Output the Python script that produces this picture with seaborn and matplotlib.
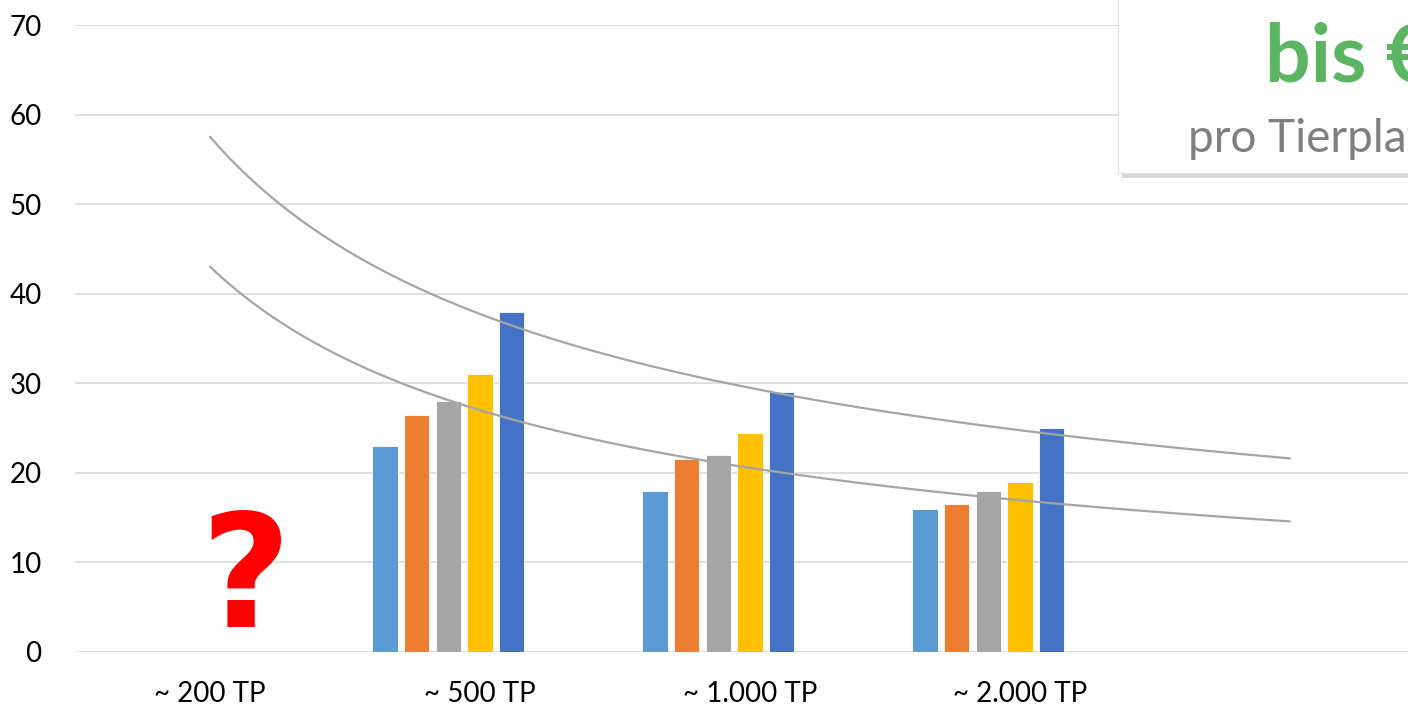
import numpy as np
import pandas as pd
import matplotlib
matplotlib.use("Agg")
import matplotlib.pyplot as plt
import seaborn as sns
from matplotlib.patches import Rectangle

# Data
categories = ["~ 200 TP", "~ 500 TP", "~ 1.000 TP", "~ 2.000 TP", ""]
series_names = ["Reihe 1", "Reihe 2", "Reihe 3", "Reihe 4", "Reihe 5", "Reihe 6", "Reihe 7"]
series_colors = ["#5B9BD5", "#ED7D31", "#A5A5A5", "#FFC000", "#4472C4", "#264478", "#9E480E"]
bar_categories = ["~ 500 TP", "~ 1.000 TP", "~ 2.000 TP"]
reihe1 = [23, 18, 16]
reihe2 = [26.5, 21.5, 16.5]
reihe3 = [28, 22, 18]
reihe4 = [31, 24.5, 19]
reihe5 = [38, 29, 25]
y_ticks = [0, 10, 20, 30, 40, 50, 60, 70]

rows = []
for name, vals in zip(series_names[:5], [reihe1, reihe2, reihe3, reihe4, reihe5]):
    for cat, v in zip(bar_categories, vals):
        rows.append({"Kategorie": cat, "Reihe": name, "Wert": v})
df = pd.DataFrame(rows)

sns.set_style("white")
plt.rcParams["font.family"] = ["Lato", "DejaVu Sans"]

fig = plt.figure(figsize=(14.08, 7.08), dpi=100)
ax = fig.add_axes([75 / 1408, 56 / 708, 1 - 75 / 1408, 627 / 708])

# 7 hue slots (last two empty) so the 5 bars sit left of centre like in Excel
sns.barplot(data=df, x="Kategorie", y="Wert", hue="Reihe", order=categories,
            hue_order=series_names, palette=dict(zip(series_names, series_colors)),
            width=0.821, gap=0.21, saturation=1, legend=False, ax=ax, zorder=2,
            edgecolor="white", linewidth=0.6)

# power trendlines (like Excel) fitted to series 2 and series 5, x = 1..5
x_idx = np.array([2, 3, 4])
xs = np.linspace(1, 5, 200)
for vals in [reihe2, reihe5]:
    b, ln_a = np.polyfit(np.log(x_idx), np.log(vals), 1)
    ax.plot(xs - 1, np.exp(ln_a) * xs ** b, color="#A5A5A5", lw=1.6, zorder=3)

ax.set_xlim(-0.5, -0.5 + (1408 - 75) / 270)
ax.set_ylim(0, 70)
ax.set_yticks(y_ticks)
ax.yaxis.grid(True, color="#D9D9D9", lw=1.2)
ax.set_axisbelow(True)
for s in ax.spines.values():
    s.set_visible(False)
ax.tick_params(axis="y", length=0, pad=24, labelsize=20, labelcolor="black")
ax.tick_params(axis="x", length=0, pad=21, labelsize=20, labelcolor="black")
ax.set_xlabel("")
ax.set_ylabel("")

# red question mark over the first category
fig.text(245 / 1408, (708 - 627) / 708, "?", color="#FF0000", fontsize=112,
         fontweight="bold", ha="center", va="baseline", family=["DejaVu Sans"])

# info box at top right (cut off by the figure edge as in the reference)
box_l, box_b = 1118 / 1408, (708 - 173) / 708
shadow = Rectangle((box_l + 4 / 1408, box_b - 5 / 708), 0.3, 0.4, transform=fig.transFigure,
                   facecolor="#BFBFBF", edgecolor="none", alpha=0.6, zorder=5)
box = Rectangle((box_l, box_b), 0.3, 0.4, transform=fig.transFigure,
                facecolor="white", edgecolor="#E0E0E0", lw=0.8, zorder=6)
fig.patches.extend([shadow, box])
fig.text(1265 / 1408, (708 - 82) / 708, "bis €", color="#5CB562", fontsize=58,
         fontweight="bold", ha="left", va="baseline", zorder=7)
fig.text(1188 / 1408, (708 - 152) / 708, "pro Tierplatz", color="#7F7F7F", fontsize=33,
         ha="left", va="baseline", zorder=7)

fig.savefig("out.png", dpi=100)
